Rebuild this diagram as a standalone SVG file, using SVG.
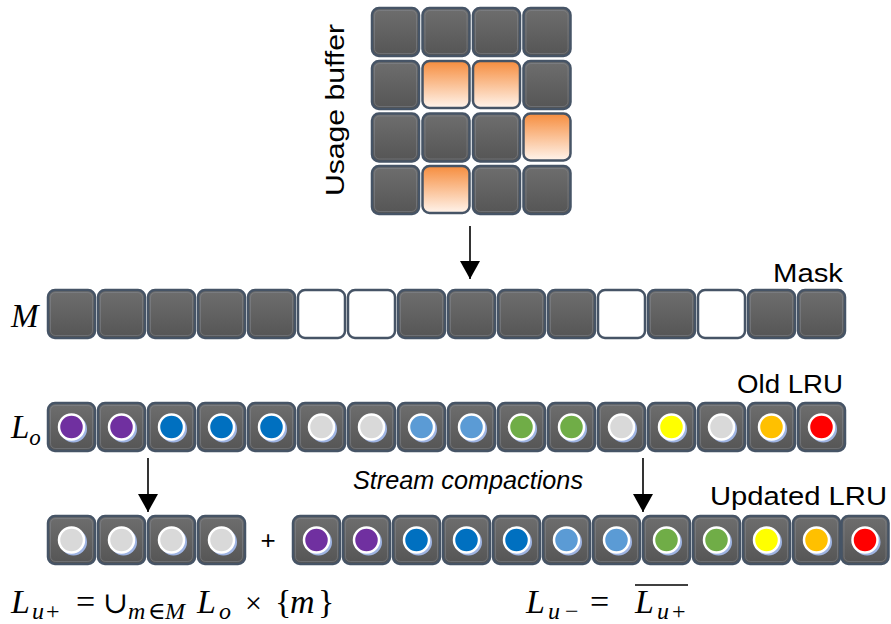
<svg xmlns="http://www.w3.org/2000/svg" xmlns:xlink="http://www.w3.org/1999/xlink" width="891" height="624" viewBox="0 0 891 624">
<defs>
<linearGradient id="gDark" x1="0" y1="0" x2="0" y2="1"><stop offset="0" stop-color="#6e6e6e"/><stop offset="1" stop-color="#555555"/></linearGradient>
<linearGradient id="gOrange" x1="0" y1="0" x2="0" y2="1"><stop offset="0" stop-color="#f68d3e"/><stop offset="1" stop-color="#fff4ec"/></linearGradient>
<marker id="ah" markerWidth="20" markerHeight="20" viewBox="0 0 20 20" refX="18" refY="10" orient="auto" markerUnits="userSpaceOnUse"><path d="M0,0 L18,10 L0,20 Z" fill="#000"/></marker>
<g id="c"><rect x="0" y="0" width="47" height="48" rx="7" class="cell"/><rect x="2.5" y="2.5" width="42" height="43" rx="5" class="inner"/></g>
<g id="cw"><rect x="0" y="0" width="47" height="48" rx="7" class="wcell"/></g>
<g id="co"><rect x="0" y="0" width="47" height="47" rx="7" class="ocell"/></g>
</defs>
<style>
.cell{fill:url(#gDark);stroke:#465466;stroke-width:2.5}
.inner{fill:none;stroke:#8a8f96;stroke-opacity:0.45;stroke-width:1}
.wcell{fill:#ffffff;stroke:#465466;stroke-width:2.5}
.ocell{fill:url(#gOrange);stroke:#465466;stroke-width:2.5}
.sh{fill:#9fb4e2}
.dot{stroke:#ffffff;stroke-width:2.5}
.lbl{font-family:"Liberation Sans",Arial,sans-serif;font-size:26px;fill:#000}
.math{font-family:"Liberation Serif","DejaVu Serif",serif;font-style:italic;fill:#000}
.up{font-family:"Liberation Serif","DejaVu Serif",serif;font-style:normal;fill:#000}
.conn{stroke:#000;stroke-width:1.6;fill:none}
</style>
<rect width="891" height="624" fill="#ffffff"/>

<!-- Usage buffer grid -->
<g id="usage-buffer">
<text class="lbl" font-size="29" text-anchor="middle" textLength="172" lengthAdjust="spacingAndGlyphs" transform="translate(344,110) rotate(-90)">Usage buffer</text>
<use xlink:href="#c" x="372" y="8"/><use xlink:href="#c" x="422.5" y="8"/><use xlink:href="#c" x="473" y="8"/><use xlink:href="#c" x="523.5" y="8"/>
<use xlink:href="#c" x="372" y="61"/><use xlink:href="#co" x="422.5" y="61"/><use xlink:href="#co" x="473" y="61"/><use xlink:href="#c" x="523.5" y="61"/>
<use xlink:href="#c" x="372" y="113.5"/><use xlink:href="#c" x="422.5" y="113.5"/><use xlink:href="#c" x="473" y="113.5"/><use xlink:href="#co" x="523.5" y="113.5"/>
<use xlink:href="#c" x="372" y="166"/><use xlink:href="#co" x="422.5" y="166"/><use xlink:href="#c" x="473" y="166"/><use xlink:href="#c" x="523.5" y="166"/>
</g>

<!-- Mask row -->
<g id="mask">
<text class="math" font-size="33" x="11" y="327">M</text>
<text class="lbl" x="843" y="282" text-anchor="end" textLength="70" lengthAdjust="spacingAndGlyphs">Mask</text>
<use xlink:href="#c" x="48" y="290"/><use xlink:href="#c" x="98" y="290"/><use xlink:href="#c" x="148" y="290"/><use xlink:href="#c" x="198" y="290"/><use xlink:href="#c" x="248" y="290"/>
<use xlink:href="#cw" x="298" y="290"/><use xlink:href="#cw" x="348" y="290"/>
<use xlink:href="#c" x="398" y="290"/><use xlink:href="#c" x="448" y="290"/><use xlink:href="#c" x="498" y="290"/><use xlink:href="#c" x="548" y="290"/>
<use xlink:href="#cw" x="598" y="290"/>
<use xlink:href="#c" x="648" y="290"/>
<use xlink:href="#cw" x="698" y="290"/>
<use xlink:href="#c" x="748" y="290"/><use xlink:href="#c" x="798" y="290"/>
</g>

<!-- Old LRU row -->
<g id="old-lru">
<text class="math" font-size="33" x="11" y="438">L<tspan font-size="23" dy="7">o</tspan></text>
<text class="lbl" x="843" y="393" text-anchor="end" textLength="106" lengthAdjust="spacingAndGlyphs">Old LRU</text>
<g transform="translate(48,403)"><use xlink:href="#c"/><circle class="sh" cx="25.5" cy="26" r="13.5"/><circle class="dot" cx="23.5" cy="24" r="12.5" fill="#7030a0"/></g>
<g transform="translate(98,403)"><use xlink:href="#c"/><circle class="sh" cx="25.5" cy="26" r="13.5"/><circle class="dot" cx="23.5" cy="24" r="12.5" fill="#7030a0"/></g>
<g transform="translate(148,403)"><use xlink:href="#c"/><circle class="sh" cx="25.5" cy="26" r="13.5"/><circle class="dot" cx="23.5" cy="24" r="12.5" fill="#0070c0"/></g>
<g transform="translate(198,403)"><use xlink:href="#c"/><circle class="sh" cx="25.5" cy="26" r="13.5"/><circle class="dot" cx="23.5" cy="24" r="12.5" fill="#0070c0"/></g>
<g transform="translate(248,403)"><use xlink:href="#c"/><circle class="sh" cx="25.5" cy="26" r="13.5"/><circle class="dot" cx="23.5" cy="24" r="12.5" fill="#0070c0"/></g>
<g transform="translate(298,403)"><use xlink:href="#c"/><circle class="sh" cx="25.5" cy="26" r="13.5"/><circle class="dot" cx="23.5" cy="24" r="12.5" fill="#d9d9d9"/></g>
<g transform="translate(348,403)"><use xlink:href="#c"/><circle class="sh" cx="25.5" cy="26" r="13.5"/><circle class="dot" cx="23.5" cy="24" r="12.5" fill="#d9d9d9"/></g>
<g transform="translate(398,403)"><use xlink:href="#c"/><circle class="sh" cx="25.5" cy="26" r="13.5"/><circle class="dot" cx="23.5" cy="24" r="12.5" fill="#5b9bd5"/></g>
<g transform="translate(448,403)"><use xlink:href="#c"/><circle class="sh" cx="25.5" cy="26" r="13.5"/><circle class="dot" cx="23.5" cy="24" r="12.5" fill="#5b9bd5"/></g>
<g transform="translate(498,403)"><use xlink:href="#c"/><circle class="sh" cx="25.5" cy="26" r="13.5"/><circle class="dot" cx="23.5" cy="24" r="12.5" fill="#70ad47"/></g>
<g transform="translate(548,403)"><use xlink:href="#c"/><circle class="sh" cx="25.5" cy="26" r="13.5"/><circle class="dot" cx="23.5" cy="24" r="12.5" fill="#70ad47"/></g>
<g transform="translate(598,403)"><use xlink:href="#c"/><circle class="sh" cx="25.5" cy="26" r="13.5"/><circle class="dot" cx="23.5" cy="24" r="12.5" fill="#d9d9d9"/></g>
<g transform="translate(648,403)"><use xlink:href="#c"/><circle class="sh" cx="25.5" cy="26" r="13.5"/><circle class="dot" cx="23.5" cy="24" r="12.5" fill="#ffff00"/></g>
<g transform="translate(698,403)"><use xlink:href="#c"/><circle class="sh" cx="25.5" cy="26" r="13.5"/><circle class="dot" cx="23.5" cy="24" r="12.5" fill="#d9d9d9"/></g>
<g transform="translate(748,403)"><use xlink:href="#c"/><circle class="sh" cx="25.5" cy="26" r="13.5"/><circle class="dot" cx="23.5" cy="24" r="12.5" fill="#ffc000"/></g>
<g transform="translate(798,403)"><use xlink:href="#c"/><circle class="sh" cx="25.5" cy="26" r="13.5"/><circle class="dot" cx="23.5" cy="24" r="12.5" fill="#ff0000"/></g>
</g>

<text id="stream-label" class="lbl" font-size="20" font-style="italic" x="353" y="489" textLength="230" lengthAdjust="spacingAndGlyphs">Stream compactions</text>

<!-- Updated LRU: L_u+ part -->
<g id="lu-plus">
<g transform="translate(48,516)"><use xlink:href="#c"/><circle class="sh" cx="25.5" cy="26" r="13.5"/><circle class="dot" cx="23.5" cy="24" r="12.5" fill="#d9d9d9"/></g>
<g transform="translate(98,516)"><use xlink:href="#c"/><circle class="sh" cx="25.5" cy="26" r="13.5"/><circle class="dot" cx="23.5" cy="24" r="12.5" fill="#d9d9d9"/></g>
<g transform="translate(148,516)"><use xlink:href="#c"/><circle class="sh" cx="25.5" cy="26" r="13.5"/><circle class="dot" cx="23.5" cy="24" r="12.5" fill="#d9d9d9"/></g>
<g transform="translate(198,516)"><use xlink:href="#c"/><circle class="sh" cx="25.5" cy="26" r="13.5"/><circle class="dot" cx="23.5" cy="24" r="12.5" fill="#d9d9d9"/></g>
</g>
<text id="plus" class="lbl" font-size="22" x="268" y="549" text-anchor="middle">+</text>

<!-- Updated LRU: L_u- part -->
<g id="lu-minus">
<text class="lbl" x="887" y="505" text-anchor="end" textLength="177" lengthAdjust="spacingAndGlyphs">Updated LRU</text>
<g transform="translate(293,516)"><use xlink:href="#c"/><circle class="sh" cx="25.5" cy="26" r="13.5"/><circle class="dot" cx="23.5" cy="24" r="12.5" fill="#7030a0"/></g>
<g transform="translate(343,516)"><use xlink:href="#c"/><circle class="sh" cx="25.5" cy="26" r="13.5"/><circle class="dot" cx="23.5" cy="24" r="12.5" fill="#7030a0"/></g>
<g transform="translate(393,516)"><use xlink:href="#c"/><circle class="sh" cx="25.5" cy="26" r="13.5"/><circle class="dot" cx="23.5" cy="24" r="12.5" fill="#0070c0"/></g>
<g transform="translate(443,516)"><use xlink:href="#c"/><circle class="sh" cx="25.5" cy="26" r="13.5"/><circle class="dot" cx="23.5" cy="24" r="12.5" fill="#0070c0"/></g>
<g transform="translate(493,516)"><use xlink:href="#c"/><circle class="sh" cx="25.5" cy="26" r="13.5"/><circle class="dot" cx="23.5" cy="24" r="12.5" fill="#0070c0"/></g>
<g transform="translate(543,516)"><use xlink:href="#c"/><circle class="sh" cx="25.5" cy="26" r="13.5"/><circle class="dot" cx="23.5" cy="24" r="12.5" fill="#5b9bd5"/></g>
<g transform="translate(593,516)"><use xlink:href="#c"/><circle class="sh" cx="25.5" cy="26" r="13.5"/><circle class="dot" cx="23.5" cy="24" r="12.5" fill="#5b9bd5"/></g>
<g transform="translate(643,516)"><use xlink:href="#c"/><circle class="sh" cx="25.5" cy="26" r="13.5"/><circle class="dot" cx="23.5" cy="24" r="12.5" fill="#70ad47"/></g>
<g transform="translate(693,516)"><use xlink:href="#c"/><circle class="sh" cx="25.5" cy="26" r="13.5"/><circle class="dot" cx="23.5" cy="24" r="12.5" fill="#70ad47"/></g>
<g transform="translate(743,516)"><use xlink:href="#c"/><circle class="sh" cx="25.5" cy="26" r="13.5"/><circle class="dot" cx="23.5" cy="24" r="12.5" fill="#ffff00"/></g>
<g transform="translate(793,516)"><use xlink:href="#c"/><circle class="sh" cx="25.5" cy="26" r="13.5"/><circle class="dot" cx="23.5" cy="24" r="12.5" fill="#ffc000"/></g>
<g transform="translate(841.5,516)"><use xlink:href="#c"/><circle class="sh" cx="25.5" cy="26" r="13.5"/><circle class="dot" cx="23.5" cy="24" r="12.5" fill="#ff0000"/></g>
</g>

<!-- Formulas -->
<g id="formula-plus">
<text class="math" font-size="34" x="11" y="613">L</text>
<text class="math" font-size="24" x="32" y="619">u</text>
<text class="up" font-size="24" x="46" y="619">+</text>
<text class="up" font-size="34" x="76" y="613">=</text>
<text class="up" font-size="30" x="103" y="613">∪</text>
<text class="math" font-size="24" x="128" y="619">m</text>
<text class="up" font-size="24" x="148" y="619">∈</text>
<text class="math" font-size="24" x="165" y="619">M</text>
<text class="math" font-size="34" x="197" y="613">L</text>
<text class="math" font-size="24" x="219" y="619">o</text>
<text class="up" font-size="30" x="245" y="613">×</text>
<text class="up" font-size="34" x="275" y="613">{</text>
<text class="math" font-size="34" x="290" y="613">m</text>
<text class="up" font-size="34" x="318" y="613">}</text>
</g>
<g id="formula-minus">
<text class="math" font-size="34" x="526" y="613">L</text>
<text class="math" font-size="24" x="548" y="619">u</text>
<text class="up" font-size="24" x="565" y="619">−</text>
<text class="up" font-size="34" x="590" y="613">=</text>
<line x1="635" y1="585" x2="688" y2="585" stroke="#000" stroke-width="1.6"/>
<text class="math" font-size="34" x="635" y="613">L</text>
<text class="math" font-size="24" x="657" y="619">u</text>
<text class="up" font-size="24" x="672" y="619">+</text>
</g>

<!-- Connectors -->
<g id="connectors">
<line class="conn" x1="470" y1="226" x2="470" y2="279" marker-end="url(#ah)"/>
<line class="conn" x1="148" y1="458" x2="148" y2="512" marker-end="url(#ah)"/>
<line class="conn" x1="643" y1="458" x2="643" y2="512" marker-end="url(#ah)"/>
</g>
</svg>
